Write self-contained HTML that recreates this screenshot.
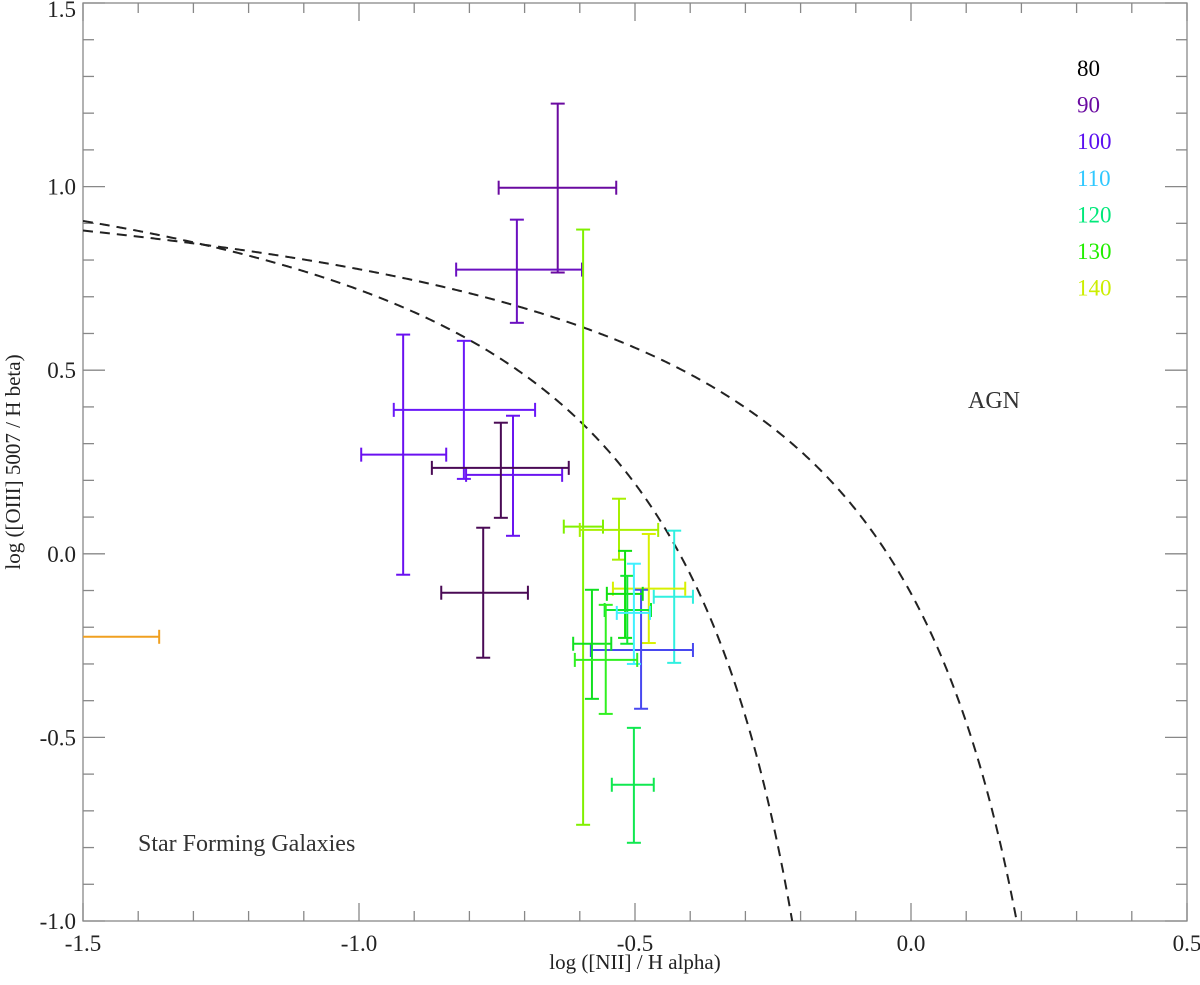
<!DOCTYPE html>
<html><head><meta charset="utf-8">
<style>
html,body{margin:0;padding:0;background:#fff;}
svg{display:block;font-family:"Liberation Serif",serif;}
</style></head>
<body>
<svg id="chart" width="1200" height="985" viewBox="0 0 1200 985" xmlns="http://www.w3.org/2000/svg">
<defs><clipPath id="plotclip"><rect x="83" y="3" width="1104" height="918"/></clipPath></defs>
<g id="axes"></g>
<g id="curves" clip-path="url(#plotclip)"></g>
<g id="points" clip-path="url(#plotclip)"></g>
<g id="legend"></g>
<text x="968" y="408" font-size="24" fill="#333">AGN</text>
<text x="138" y="851" font-size="24" fill="#333">Star Forming Galaxies</text>
<text x="635" y="969" font-size="21" text-anchor="middle" fill="#222">log ([NII] / H alpha)</text>
<text transform="translate(20,462) rotate(-90)" font-size="21" text-anchor="middle" fill="#222">log ([OIII] 5007 / H beta)</text>
</svg>
<script>
const xTicks = [-1.5, -1.0, -0.5, 0.0, 0.5];
const xTickLabels = ["-1.5", "-1.0", "-0.5", "0.0", "0.5"];
const yTicks = [-1.0, -0.5, 0.0, 0.5, 1.0, 1.5];
const yTickLabels = ["-1.0", "-0.5", "0.0", "0.5", "1.0", "1.5"];
const legendLabels = ["80", "90", "100", "110", "120", "130", "140"];
const legendColors = ["#000000", "#6a0aa0", "#5a10f0", "#30c8ff", "#00e87a", "#22ee00", "#ccee00"];
// x, xlo, xhi, y, ylo, yhi
const ptX   = [-0.640,-0.714,-0.920,-0.810,-0.721,-0.743,-0.775,-1.60,-0.594,-0.529,-0.429,-0.475,-0.489,-0.518,-0.514,-0.502,-0.578,-0.553,-0.502];
const ptXlo = [-0.747,-0.824,-0.996,-0.937,-0.806,-0.868,-0.851,-1.84,-0.629,-0.600,-0.466,-0.540,-0.580,-0.551,-0.555,-0.533,-0.612,-0.609,-0.542];
const ptXhi = [-0.534,-0.596,-0.842,-0.681,-0.632,-0.620,-0.694,-1.362,-0.558,-0.458,-0.395,-0.409,-0.395,-0.486,-0.471,-0.473,-0.543,-0.496,-0.466];
const ptY   = [0.997,0.774,0.270,0.392,0.215,0.234,-0.106,-0.226,0.074,0.065,-0.117,-0.095,-0.262,-0.109,-0.153,-0.161,-0.245,-0.289,-0.629];
const ptYlo = [0.766,0.629,-0.057,0.204,0.049,0.098,-0.283,-0.226,-0.738,-0.016,-0.297,-0.243,-0.422,-0.229,-0.245,-0.300,-0.395,-0.436,-0.787];
const ptYhi = [1.226,0.910,0.597,0.580,0.376,0.357,0.071,-0.226,0.883,0.150,0.063,0.054,-0.098,0.008,-0.060,-0.027,-0.098,-0.139,-0.474];
const ptColor = ["#6a0aa0","#6b10c0","#6a10f0","#6a18f8","#6a14f0","#4a0a55","#4a0a55","#f0a020","#80f000","#a8f000","#30f0e0","#d8f000","#4848f0","#10e010","#10e830","#40f0ff","#10e020","#30f020","#10e850"];

const NS = "http://www.w3.org/2000/svg";
const X0 = 83, X1 = 1187, Y0 = 921, Y1 = 3;
function sx(v){ return X0 + (v + 1.5) / 2.0 * (X1 - X0); }
function sy(v){ return Y0 - (v + 1.0) / 2.5 * (Y0 - Y1); }
function mk(parent, tag, attrs){
  const e = document.createElementNS(NS, tag);
  for (const k in attrs) e.setAttribute(k, attrs[k]);
  parent.appendChild(e); return e;
}
const axes = document.getElementById('axes');
const frame = mk(axes, 'rect', {x:X0, y:Y1, width:X1-X0, height:Y0-Y1, fill:'none', stroke:'#888', 'stroke-width':1.3});


for (let i = 0; i <= 20; i++){
  const v = -1.5 + i * 0.1, x = sx(v), len = (i % 5 === 0) ? 18 : 10;
  const t1 = mk(axes, 'line', {x1:x, x2:x, y1:Y0, y2:Y0-len, stroke:'#888', 'stroke-width':1.3});
  
  
  const t2 = mk(axes, 'line', {x1:x, x2:x, y1:Y1, y2:Y1+len, stroke:'#888', 'stroke-width':1.3});
  
  
}
for (let i = 0; i <= 25; i++){
  const v = -1.0 + i * 0.1, y = sy(v), len = (i % 5 === 0) ? 22 : 11;
  const t1 = mk(axes, 'line', {x1:X0, x2:X0+len, y1:y, y2:y, stroke:'#888', 'stroke-width':1.3});
  
  
  const t2 = mk(axes, 'line', {x1:X1, x2:X1-len, y1:y, y2:y, stroke:'#888', 'stroke-width':1.3});
  
  
}
xTicks.forEach((v, i) => {
  const t = mk(axes, 'text', {x:sx(v), y:951, 'font-size':23, 'text-anchor':'middle', fill:'#222'});
  t.textContent = xTickLabels[i];
  
  
});
yTicks.forEach((v, i) => {
  const t = mk(axes, 'text', {x:X0-7, y:Math.max(sy(v)+8, 17), 'font-size':23, 'text-anchor':'end', fill:'#222'});
  t.textContent = yTickLabels[i];
  
  
});
const curves = document.getElementById('curves');
function curve(fn, xmax, name){
  let d = '';
  for (let x = -1.5; x < xmax; x += 0.002){
    const y = fn(x); if (y < -1.2) break;
    d += (d ? 'L' : 'M') + sx(x).toFixed(2) + ',' + sy(y).toFixed(2);
  }
  const p = mk(curves, 'path', {d:d, fill:'none', stroke:'#222', 'stroke-width':2, 'stroke-dasharray':'10,7'});
  
  
}
curve(x => 0.61/(x-0.05)+1.3, 0.049, 'kauffmann-curve');
curve(x => 0.61/(x-0.47)+1.19, 0.469, 'kewley-curve');
const pts = document.getElementById('points');
const cap = 7;
ptX.forEach((v, i) => {
  const g = mk(pts, 'g', {stroke:ptColor[i], 'stroke-width':2, fill:'none'});
  
  
  const cx = sx(v), cy = sy(ptY[i]), xl = sx(ptXlo[i]), xh = sx(ptXhi[i]), yl = sy(ptYlo[i]), yh = sy(ptYhi[i]);
  mk(g, 'line', {x1:xl, x2:xh, y1:cy, y2:cy});
  mk(g, 'line', {x1:xl, x2:xl, y1:cy-cap, y2:cy+cap});
  mk(g, 'line', {x1:xh, x2:xh, y1:cy-cap, y2:cy+cap});
  if (Math.abs(yl - yh) > 1){
    mk(g, 'line', {x1:cx, x2:cx, y1:yl, y2:yh});
    mk(g, 'line', {x1:cx-cap, x2:cx+cap, y1:yl, y2:yl});
    mk(g, 'line', {x1:cx-cap, x2:cx+cap, y1:yh, y2:yh});
  }
});
const lg = document.getElementById('legend');
legendLabels.forEach((s, i) => {
  const t = mk(lg, 'text', {x:1077, y:76 + i*36.6, 'font-size':23, fill:legendColors[i]});
  t.textContent = s;
  
  
});
</script>
</body></html>
